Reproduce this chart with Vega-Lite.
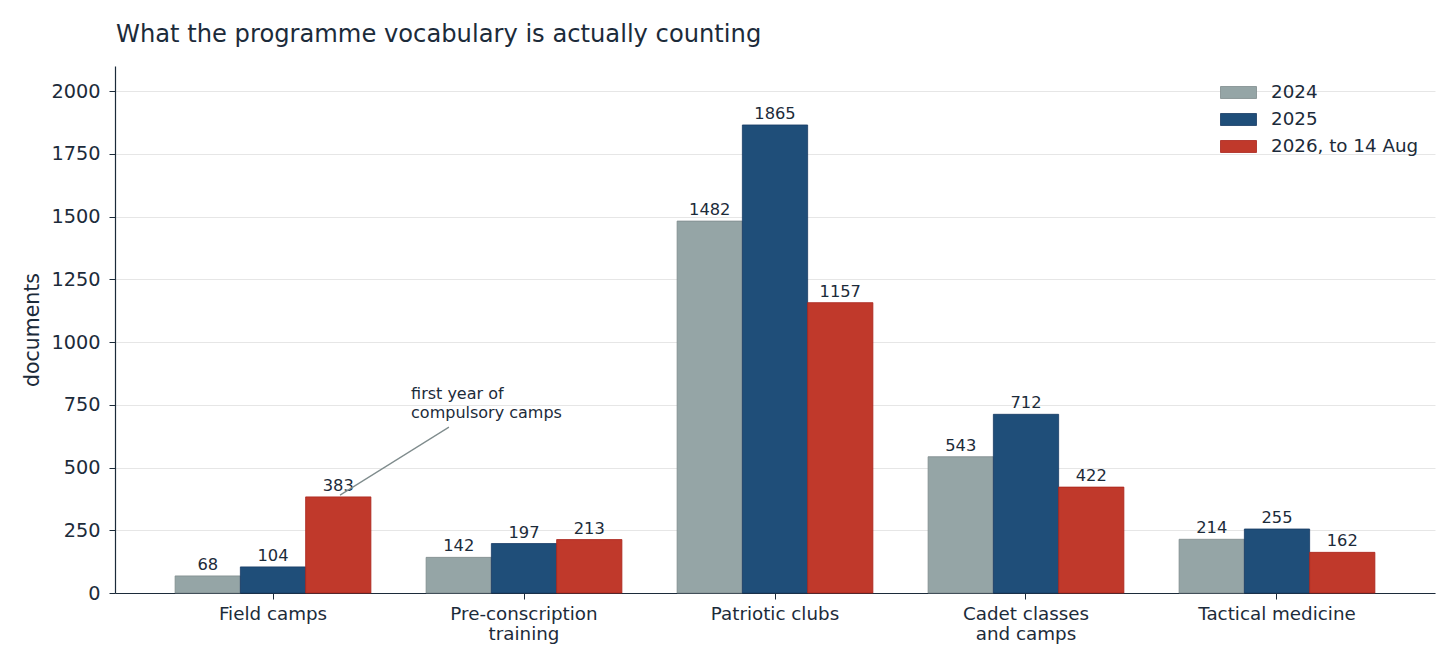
{
  "$schema": "https://vega.github.io/schema/vega-lite/v6.json",
  "width": 1320,
  "height": 527,
  "autosize": "none",
  "padding": {"left": 115, "top": 66, "right": 21, "bottom": 77},
  "background": "white",
  "config": {
    "font": "DejaVu Sans",
    "view": {"stroke": null},
    "axis": {
      "labelColor": "#1c2b3a",
      "titleColor": "#1c2b3a",
      "domainColor": "#1c2b3a",
      "tickColor": "#1c2b3a",
      "labelFont": "DejaVu Sans",
      "titleFont": "DejaVu Sans"
    },
    "legend": {"labelFont": "DejaVu Sans", "labelColor": "#1c2b3a"}
  },
  "title": {
    "text": "What the programme vocabulary is actually counting",
    "anchor": "start",
    "frame": "group",
    "fontSize": 24.2,
    "fontWeight": "normal",
    "color": "#1c2b3a",
    "offset": 19,
    "dx": 1
  },
  "datasets": {
    "counts": [
      {"topic": "Field camps", "year": "2024", "n": 68},
      {"topic": "Field camps", "year": "2025", "n": 104},
      {"topic": "Field camps", "year": "2026, to 14 Aug", "n": 383},
      {"topic": "Pre-conscription training", "year": "2024", "n": 142},
      {"topic": "Pre-conscription training", "year": "2025", "n": 197},
      {"topic": "Pre-conscription training", "year": "2026, to 14 Aug", "n": 213},
      {"topic": "Patriotic clubs", "year": "2024", "n": 1482},
      {"topic": "Patriotic clubs", "year": "2025", "n": 1865},
      {"topic": "Patriotic clubs", "year": "2026, to 14 Aug", "n": 1157},
      {"topic": "Cadet classes and camps", "year": "2024", "n": 543},
      {"topic": "Cadet classes and camps", "year": "2025", "n": 712},
      {"topic": "Cadet classes and camps", "year": "2026, to 14 Aug", "n": 422},
      {"topic": "Tactical medicine", "year": "2024", "n": 214},
      {"topic": "Tactical medicine", "year": "2025", "n": 255},
      {"topic": "Tactical medicine", "year": "2026, to 14 Aug", "n": 162}
    ],
    "note": [
      {"x": 0.701, "y": 661, "x2": 0.267, "y2": 390, "tx": 0.55, "ty": 773, "label": "first year of\ncompulsory camps"}
    ]
  },
  "layer": [
    {
      "data": {"name": "counts"},
      "encoding": {
        "x": {
          "field": "topic",
          "type": "nominal",
          "sort": null,
          "scale": {"paddingInner": 0.22, "paddingOuter": 0.2395},
          "axis": {
            "title": null,
            "labelAngle": 0,
            "labelFontSize": 18.3,
            "labelPadding": 6,
            "labelLineHeight": 20,
            "tickSize": 6,
            "domainWidth": 1.2,
            "labelExpr": "datum.label == 'Pre-conscription training' ? ['Pre-conscription', 'training'] : datum.label == 'Cadet classes and camps' ? ['Cadet classes', 'and camps'] : datum.label"
          }
        },
        "xOffset": {
          "field": "year",
          "type": "nominal",
          "scale": {"domain": ["2024", "2025", "2026, to 14 Aug"], "paddingInner": 0, "paddingOuter": 0}
        },
        "y": {
          "field": "n",
          "type": "quantitative",
          "scale": {"domain": [0, 2100], "nice": false},
          "axis": {
            "title": "documents",
            "titleFontSize": 20.5,
            "titleFontWeight": "normal",
            "titlePadding": 8,
            "labelFontSize": 19.3,
            "labelPadding": 9,
            "tickSize": 6,
            "format": "d",
            "values": [0, 250, 500, 750, 1000, 1250, 1500, 1750, 2000],
            "gridColor": "#e6e6e6",
            "domainWidth": 1.2
          }
        }
      },
      "layer": [
        {
          "mark": {"type": "bar", "strokeWidth": 0.8},
          "encoding": {
            "color": {
              "field": "year",
              "type": "nominal",
              "scale": {
                "domain": ["2024", "2025", "2026, to 14 Aug"],
                "range": ["#95a5a6", "#1f4e79", "#c0392b"]
              },
              "legend": {
                "title": null,
                "orient": "none",
                "legendX": 1105,
                "legendY": 8,
                "labelFontSize": 18.3,
                "symbolType": "M-1,-0.333H1V0.333H-1Z",
                "symbolSize": 1296,
                "symbolStrokeWidth": 0.8,
                "labelOffset": 14,
                "rowPadding": -3
              }
            },
            "stroke": {
              "field": "year",
              "type": "nominal",
              "scale": {
                "domain": ["2024", "2025", "2026, to 14 Aug"],
                "range": ["#7f8c8d", "#163a63", "#a9231b"]
              },
              "legend": null
            }
          }
        },
        {
          "mark": {"type": "text", "baseline": "bottom", "dy": -3, "fontSize": 16.3, "color": "#1c2b3a"},
          "encoding": {"text": {"field": "n", "type": "quantitative"}}
        }
      ]
    },
    {
      "data": {"name": "note"},
      "encoding": {
        "y": {"field": "y", "type": "quantitative", "scale": {"domain": [0, 2100], "nice": false}}
      },
      "layer": [
        {
          "mark": {"type": "rule", "color": "#7f8c8d", "strokeWidth": 1.2},
          "encoding": {
            "x": {"field": "x", "type": "quantitative", "scale": {"domain": [-0.6295, 4.6295], "nice": false, "zero": false}, "axis": null},
            "x2": {"field": "x2"},
            "y2": {"field": "y2"}
          }
        },
        {
          "mark": {"type": "text", "align": "left", "baseline": "alphabetic", "fontSize": 16, "color": "#1c2b3a", "lineHeight": 19, "lineBreak": "\n"},
          "encoding": {
            "x": {"field": "tx", "type": "quantitative", "scale": {"domain": [-0.6295, 4.6295], "nice": false, "zero": false}, "axis": null},
            "y": {"field": "ty", "type": "quantitative"},
            "text": {"field": "label", "type": "nominal"}
          }
        }
      ]
    }
  ],
  "resolve": {"scale": {"x": "independent", "color": "independent", "stroke": "independent"}}
}
